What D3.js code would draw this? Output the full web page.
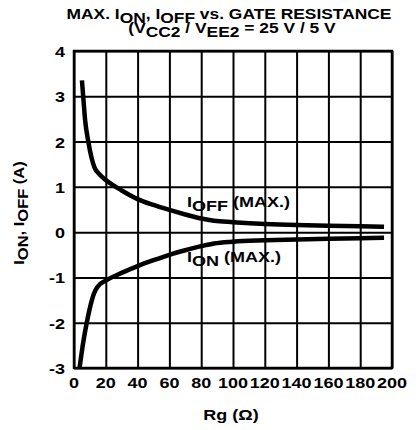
<!DOCTYPE html>
<html>
<head>
<meta charset="utf-8">
<script src="https://d3js.org/d3.v7.min.js"></script>
<style>
  body { margin: 0; background: #fff; }
</style>
</head>
<body>
<div id="chart"></div>
<script>
// values
var xTicks = [0, 20, 40, 60, 80, 100, 120, 140, 160, 180, 200]
var yTicks = [-3, -2, -1, 0, 1, 2, 3, 4]

var offRg = [5, 6, 7, 9, 11, 13, 16, 20, 30, 40, 50, 60, 70, 80, 88, 100, 120, 140, 160, 180, 195]
var offI  = [3.35, 2.9, 2.47, 2.0, 1.65, 1.42, 1.28, 1.15, 0.92, 0.73, 0.6, 0.49, 0.39, 0.3, 0.25, 0.22, 0.18, 0.155, 0.14, 0.13, 0.12]

var onRg = [3.5, 5.5, 8, 10.5, 12.5, 15, 20, 30, 40, 50, 60, 70, 80, 88, 100, 120, 140, 160, 180, 195]
var onI  = [-3, -2.5, -2, -1.6, -1.36, -1.2, -1.07, -0.9, -0.75, -0.62, -0.5, -0.4, -0.31, -0.25, -0.21, -0.18, -0.16, -0.145, -0.135, -0.125]

var width = 416, height = 430
var margin = {top: 51, right: 24, bottom: 62, left: 74}
var STRETCH = 1.2   // reference lettering is wide

var svg = d3.select("#chart").append("svg")
    .attr("width", width)
    .attr("height", height)
    .attr("font-family", "Liberation Sans, Arial, sans-serif")
    .attr("font-weight", "bold")

var x = d3.scaleLinear().domain([0, 200]).range([margin.left, width - margin.right])
var y = d3.scaleLinear().domain([-3, 4]).range([height - margin.bottom, margin.top])

// grid via d3 axes with full-length ticks
svg.append("g")
    .attr("transform", "translate(0," + y(-3) + ")")
    .call(d3.axisBottom(x).tickValues(xTicks).tickSize(-(y(-3) - y(4))).tickFormat(""))
    .call(g => g.select(".domain").remove())
    .call(g => g.selectAll("line").attr("stroke", "#000").attr("stroke-width", 2))

svg.append("g")
    .attr("transform", "translate(" + x(0) + ",0)")
    .call(d3.axisLeft(y).tickValues(yTicks).tickSize(-(x(200) - x(0))).tickFormat(""))
    .call(g => g.select(".domain").remove())
    .call(g => g.selectAll("line").attr("stroke", "#000").attr("stroke-width", 2))

// frame
svg.append("rect")
    .attr("x", x(0)).attr("y", y(4))
    .attr("width", x(200) - x(0)).attr("height", y(-3) - y(4))
    .attr("fill", "none").attr("stroke", "#000").attr("stroke-width", 2.5)

function at(px, py) {
    return "translate(" + px + "," + py + ") scale(" + STRETCH + ",1)"
}

// tick labels
svg.append("g").selectAll("text")
    .data(yTicks)
    .join("text")
    .attr("transform", d => at(x(0) - 9, y(d) + 6))
    .attr("text-anchor", "end")
    .attr("font-weight", "bold")
    .attr("font-size", 15)
    .text(d => d)

svg.append("g").selectAll("text")
    .data(xTicks)
    .join("text")
    .attr("transform", d => at(x(d), y(-3) + 20))
    .attr("text-anchor", "middle")
    .attr("font-weight", "bold")
    .attr("font-size", 15)
    .text(d => d)

// curves
var line = d3.line()
    .x(d => x(d[0]))
    .y(d => y(d[1]))
    .curve(d3.curveMonotoneX)

svg.append("path")
    .datum(d3.zip(offRg, offI))
    .attr("d", line)
    .attr("fill", "none").attr("stroke", "#000").attr("stroke-width", 4.5)

svg.append("path")
    .datum(d3.zip(onRg, onI))
    .attr("d", line)
    .attr("fill", "none").attr("stroke", "#000").attr("stroke-width", 4.5)

// text with subscripts: [string, isSub]
function subText(t, parts, size) {
    t.attr("font-size", size).attr("font-weight", "bold")
    var down = false
    parts.forEach(function (p) {
        var s = t.append("tspan").text(p[0])
        if (p[1] && !down) { s.attr("dy", 4); down = true }
        else if (!p[1] && down) { s.attr("dy", -4); down = false }
    })
    return t
}

subText(svg.append("text").attr("transform", at(229, 19)).attr("text-anchor", "middle"),
    [["MAX. I"], ["ON", 1], [", I"], ["OFF", 1], [" vs. GATE RESISTANCE"]], 14.5)

subText(svg.append("text").attr("transform", at(232, 33)).attr("text-anchor", "middle"),
    [["(V"], ["CC2", 1], [" / V"], ["EE2", 1], [" = 25 V / 5 V"]], 14.5)

subText(svg.append("text").attr("transform", at(187, 207)),
    [["I"], ["OFF", 1], [" (MAX.)"]], 15)

subText(svg.append("text").attr("transform", at(187, 262)),
    [["I"], ["ON", 1], [" (MAX.)"]], 15)

subText(svg.append("text").attr("transform", "translate(24,213) rotate(-90) scale(1.1,1)")
        .attr("text-anchor", "middle"),
    [["I"], ["ON", 1], [", I"], ["OFF", 1], [" (A)"]], 15)

svg.append("text")
    .attr("transform", at(231, 420))
    .attr("text-anchor", "middle")
    .attr("font-weight", "bold")
    .attr("font-size", 15)
    .text("Rg (\u03A9)")
</script>
</body>
</html>
